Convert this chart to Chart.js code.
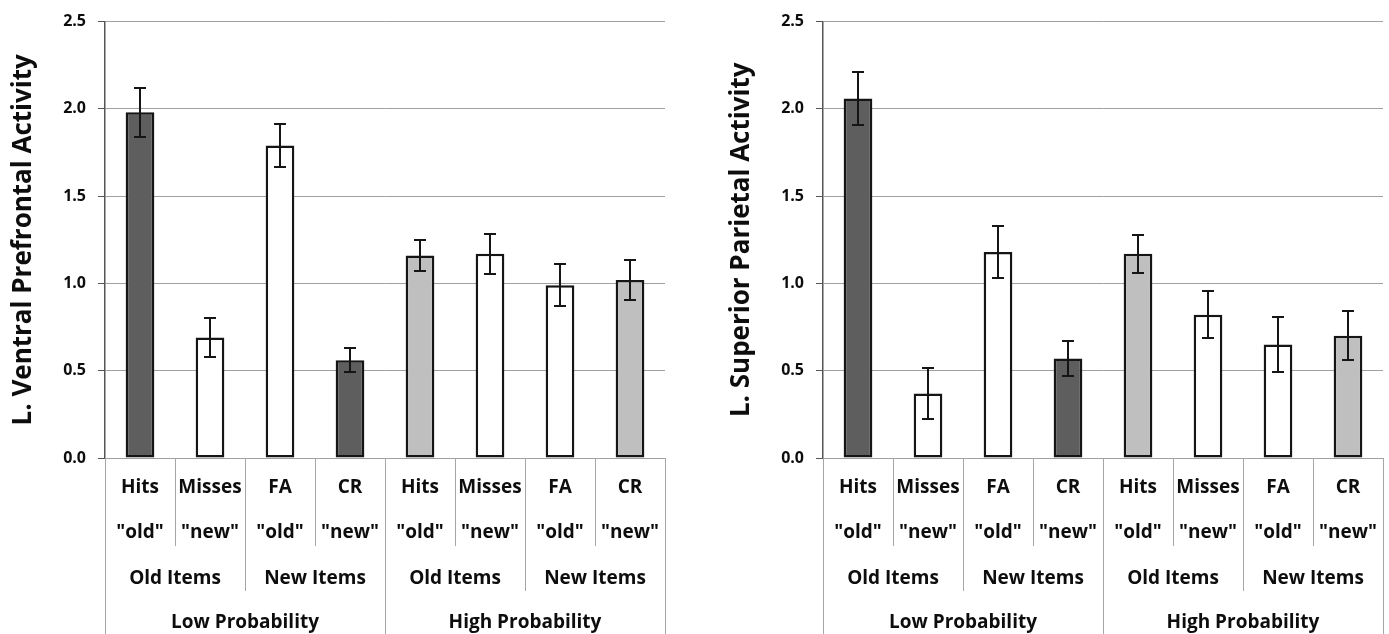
<!DOCTYPE html>
<html>
<head>
<meta charset="utf-8">
<script src="https://cdn.jsdelivr.net/npm/chart.js@4.4.1/dist/chart.umd.min.js"></script>
<style>
  html, body { margin: 0; padding: 0; background: #fff; }
  #wrap { position: relative; width: 1389px; height: 634px; overflow: hidden; }
  #left { position: absolute; left: 0; top: 0; }
  #right { position: absolute; left: 718px; top: 0; }
</style>
</head>
<body>
<div id="wrap">
  <canvas id="left" width="718" height="634"></canvas>
  <canvas id="right" width="671" height="634"></canvas>
</div>
<script>
// category levels of the table under the bars
const outcomes = ["Hits", "Misses", "FA", "CR", "Hits", "Misses", "FA", "CR"];
const responses = ['"old"', '"new"', '"old"', '"new"', '"old"', '"new"', '"old"', '"new"'];
const itemGroups = ["Old Items", "New Items", "Old Items", "New Items"];
const probGroups = ["Low Probability", "High Probability"];

const yTicks = [0, 0.5, 1.0, 1.5, 2.0, 2.5];

// left panel
const prefrontal = [1.98, 0.69, 1.79, 0.56, 1.16, 1.17, 0.99, 1.02];
const prefrontalErr = [0.14, 0.11, 0.125, 0.07, 0.09, 0.115, 0.12, 0.115];
// right panel
const parietal = [2.06, 0.37, 1.18, 0.57, 1.17, 0.82, 0.65, 0.70];
const parietalErr = [0.15, 0.145, 0.15, 0.10, 0.11, 0.135, 0.16, 0.14];

const barColors = ["#5e5e5e", "#ffffff", "#ffffff", "#5e5e5e", "#bfbfbf", "#ffffff", "#ffffff", "#bfbfbf"];
const FONT = "'Open Sans', 'Noto Sans', sans-serif";

const labels = outcomes.map((o, i) => o + " " + responses[i] + " " + probGroups[Math.floor(i / 4)]);

const tablePlugin = {
  id: "tablePlugin",
  afterDatasetsDraw(chart) {
    const ctx = chart.ctx;
    const ds = chart.data.datasets[0];
    const meta = chart.getDatasetMeta(0);
    const y = chart.scales.y;
    ctx.save();
    ctx.strokeStyle = "#151515";
    ctx.lineWidth = 2;
    meta.data.forEach((bar, i) => {
      const top = Math.round(y.getPixelForValue(ds.data[i] + ds.errors[i]));
      const bot = Math.round(y.getPixelForValue(ds.data[i] - ds.errors[i]));
      const x = Math.round(bar.x);
      ctx.beginPath();
      ctx.moveTo(x, top);
      ctx.lineTo(x, bot);
      ctx.moveTo(x - 6, top);
      ctx.lineTo(x + 6, top);
      ctx.moveTo(x - 6, bot);
      ctx.lineTo(x + 6, bot);
      ctx.stroke();
    });
    ctx.restore();
  },
  afterDraw(chart) {
    const ctx = chart.ctx;
    const area = chart.chartArea;
    const n = outcomes.length;
    const w = (area.right - area.left) / n;
    const top = area.bottom;
    const H = chart.height;
    const edge = (i) => Math.round(area.left + i * w) + 0.5;
    ctx.save();
    ctx.strokeStyle = "#a6a6a6";
    ctx.lineWidth = 1;
    for (let i = 0; i <= n; i++) {
      let bottom = top + 88;
      if (i % 2 === 0) bottom = top + 133;
      if (i % 4 === 0) bottom = H;
      ctx.beginPath();
      ctx.moveTo(edge(i), top);
      ctx.lineTo(edge(i), bottom);
      ctx.stroke();
    }
    ctx.fillStyle = "#0d0d0d";
    ctx.textAlign = "center";
    ctx.textBaseline = "middle";
    ctx.font = "bold 19px " + FONT;
    outcomes.forEach((t, i) => ctx.fillText(t, area.left + (i + 0.5) * w, top + 30));
    responses.forEach((t, i) => ctx.fillText(t, area.left + (i + 0.5) * w, top + 75));
    itemGroups.forEach((t, i) => ctx.fillText(t, area.left + (i + 0.5) * 2 * w, top + 121));
    probGroups.forEach((t, i) => ctx.fillText(t, area.left + (i + 0.5) * 4 * w, top + 165));
    ctx.restore();
  }
};

function makeChart(id, values, errors, title, padRight) {
  return new Chart(document.getElementById(id), {
    type: "bar",
    data: {
      labels: labels,
      datasets: [{
        data: values,
        errors: errors,
        backgroundColor: barColors,
        borderColor: "#151515",
        borderWidth: 2.5,
        borderSkipped: false,
        categoryPercentage: 1,
        barPercentage: 0.41,
      }],
    },
    options: {
      responsive: false,
      animation: false,
      events: [],
      layout: { padding: { top: 19, right: padRight, bottom: 168, left: 0 } },
      plugins: { legend: { display: false }, tooltip: { enabled: false } },
      scales: {
        x: {
          ticks: { display: false },
          grid: { display: false },
          border: { display: false },
        },
        y: {
          min: 0,
          max: 2.5,
          afterBuildTicks(scale) {
            scale.ticks = yTicks.map((v) => ({ value: v }));
          },
          afterFit(scale) {
            scale.width = 105;
          },
          ticks: {
            padding: 12,
            color: "#0d0d0d",
            font: { family: FONT, size: 16, weight: "bold" },
            callback: (v) => Number(v).toFixed(1),
          },
          grid: { color: "#a0a0a0", lineWidth: 1, tickLength: 7, tickColor: "#555" },
          border: { color: "#555", width: 1.5 },
          title: {
            display: true,
            text: title,
            color: "#0d0d0d",
            padding: { top: 8, bottom: 0 },
            font: { family: FONT, size: 26, weight: "bold" },
          },
        },
      },
    },
    plugins: [tablePlugin],
  });
}

makeChart("left", prefrontal, prefrontalErr, "L. Ventral Prefrontal Activity", 53);
makeChart("right", parietal, parietalErr, "L. Superior Parietal Activity", 6);
</script>
</body>
</html>
